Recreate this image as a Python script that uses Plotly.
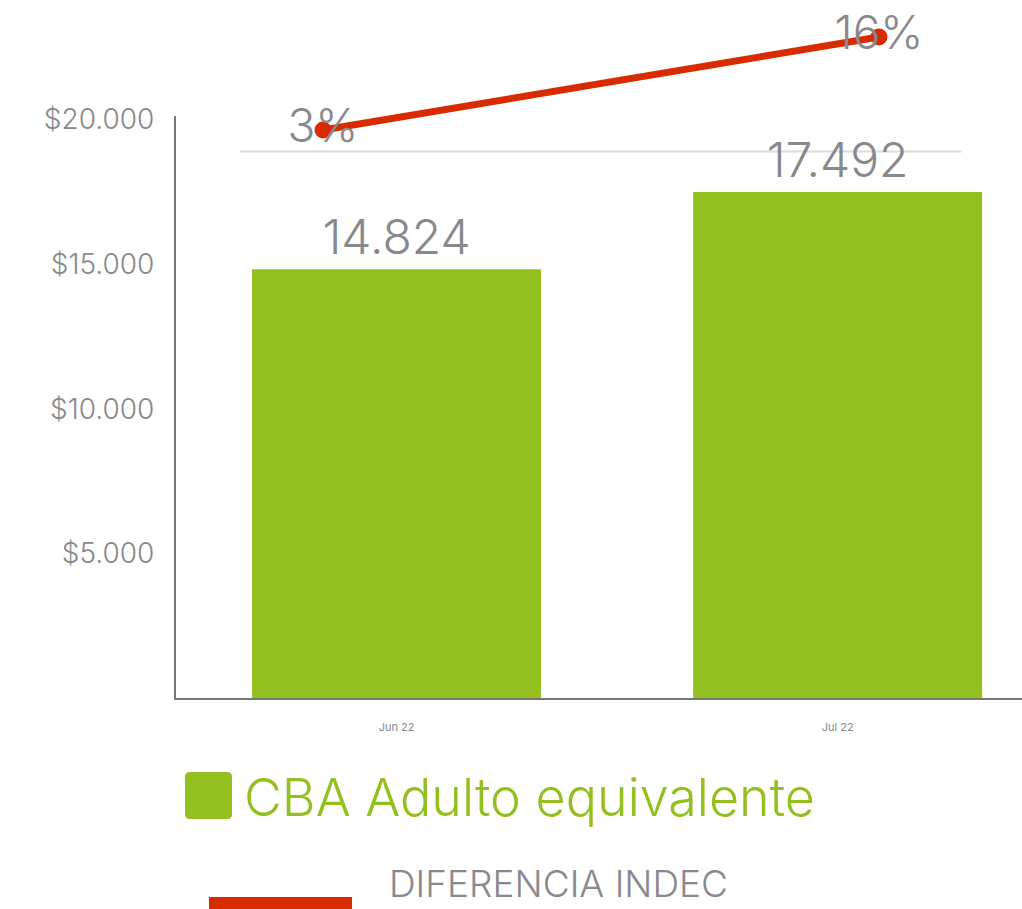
import plotly.graph_objects as go

# ---- data ----
months = ["Jun 22", "Jul 22"]
cba_values = [14824, 17492]
diff_pct = [3, 16]
diff_labels = ["3%", "16%"]
ytick_vals = [5000, 10000, 15000, 20000]
ytick_text = ["$5.000", "$10.000", "$15.000", "$20.000"]
bar_labels = [f"{v:,}".replace(",", ".") for v in cba_values]

# ---- style ----
GREEN = "#93c01f"
RED = "#d92b00"
GRAY = "#88888d"
AXIS = "#777777"
FONT = "Inter"

W, H = 1022, 909
L, R, T, B = 176, 0, 0, 211
PW, PH = W - L - R, H - T - B


def px_x(p):
    return (p - L) / PW


def px_y(p):
    return (PH - p) / PH


fig = go.Figure()

fig.add_trace(go.Bar(
    x=months, y=cba_values, name="CBA Adulto equivalente",
    marker=dict(color=GREEN, line=dict(width=0)),
    width=0.655,
    text=bar_labels, textposition="outside",
    textfont=dict(family=FONT, size=48, color=GRAY, weight=300),
    cliponaxis=False, hoverinfo="skip",
    xaxis="x", yaxis="y",
))

fig.add_trace(go.Scatter(
    x=months, y=diff_pct, name="DIFERENCIA INDEC",
    mode="lines+markers+text",
    line=dict(color=RED, width=7),
    marker=dict(color=RED, size=17),
    text=diff_labels, textposition="middle center",
    textfont=dict(family=FONT, size=46, color=GRAY, weight=300),
    cliponaxis=False, hoverinfo="skip",
    xaxis="x2", yaxis="y2",
))

# secondary axis mapping: 3% at 130px, 16% at 37px
ppp = (130 - 37) / (16 - 3)
zero_px = 130 + 3 * ppp
y2_top = zero_px / ppp
y2_bot = -(PH - zero_px) / ppp

fig.update_layout(
    template="none",
    width=W, height=H,
    margin=dict(l=L, r=R, t=T, b=B, pad=0, autoexpand=False),
    paper_bgcolor="white", plot_bgcolor="rgba(0,0,0,0)",
    showlegend=False,
    font=dict(family=FONT, color=GRAY),
    xaxis=dict(
        type="category", domain=[0, 1], range=[-0.5, 1.418],
        showline=True, linecolor=AXIS, linewidth=2,
        showgrid=False, zeroline=False, ticks="",
        tickfont=dict(family=FONT, size=11, color=GRAY),
        ticklabelstandoff=18, automargin=False,
    ),
    yaxis=dict(
        domain=[0, px_y(116)], range=[0, 20120],
        tickvals=ytick_vals, ticktext=ytick_text,
        showline=True, linecolor=AXIS, linewidth=2,
        showgrid=False, zeroline=False, ticks="",
        tickfont=dict(family=FONT, size=28, color=GRAY, weight=300),
        ticklabelstandoff=14, automargin=False,
    ),
    xaxis2=dict(
        type="category", domain=[0, 1], anchor="y2",
        categoryarray=months,
        range=[(L - 323) / 556, (W - 323) / 556],
        visible=False, automargin=False,
    ),
    yaxis2=dict(
        domain=[0, 1], anchor="x2", range=[y2_bot, y2_top],
        visible=False, automargin=False,
    ),
)

# light reference line at the 0% level of the secondary axis
fig.add_shape(type="line", xref="paper", yref="y2",
              x0=px_x(240), x1=px_x(962), y0=0, y1=0,
              line=dict(color="#dddddd", width=2), layer="below")

# custom legend
r, h = 5, 23.5
path = (f"M {-h + r},{-h} L {h - r},{-h} Q {h},{-h} {h},{-h + r} "
        f"L {h},{h - r} Q {h},{h} {h - r},{h} L {-h + r},{h} "
        f"Q {-h},{h} {-h},{h - r} L {-h},{-h + r} Q {-h},{-h} {-h + r},{-h} Z")
fig.add_shape(type="path", xref="paper", yref="paper",
              xsizemode="pixel", ysizemode="pixel",
              xanchor=px_x(208.5), yanchor=px_y(795.5),
              path=path, fillcolor=GREEN, line=dict(width=0))
fig.add_shape(type="rect", xref="paper", yref="paper",
              x0=px_x(209), x1=px_x(352), y0=px_y(897), y1=px_y(910),
              fillcolor=RED, line=dict(width=0))

fig.add_annotation(text="CBA Adulto equivalente", xref="paper", yref="paper",
                   x=px_x(242), y=px_y(797), xanchor="left", yanchor="middle",
                   showarrow=False,
                   font=dict(family=FONT, size=52, color=GREEN, weight=300))
fig.add_annotation(text="DIFERENCIA INDEC", xref="paper", yref="paper",
                   x=px_x(387), y=px_y(908), xanchor="left", yanchor="bottom",
                   showarrow=False,
                   font=dict(family=FONT, size=37, color=GRAY, weight=300))

fig.write_html(
    "out.html",
    config={"displayModeBar": False},
    post_script="document.body.style.margin='0';document.body.style.overflow='hidden';",
)
